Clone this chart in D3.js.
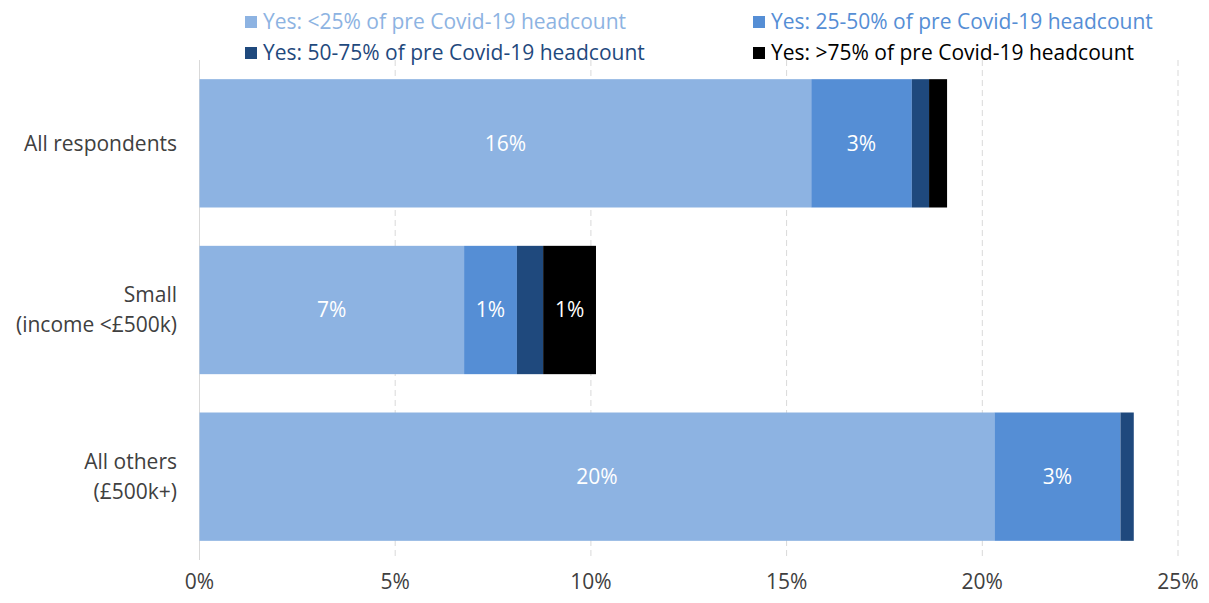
<!DOCTYPE html>
<html>
<head>
<meta charset="utf-8">
<script src="https://cdn.jsdelivr.net/npm/d3@7"></script>
<style>
  body { margin: 0; background: #fff; }
  text { font-family: "Open Sans", "Noto Sans", sans-serif; }
</style>
</head>
<body>
<div id="chart"></div>
<script>
const categories = [['All respondents'], ['Small', '(income <£500k)'], ['All others', '(£500k+)']];
const seriesNames = [
  'Yes: <25% of pre Covid-19 headcount',
  'Yes: 25-50% of pre Covid-19 headcount',
  'Yes: 50-75% of pre Covid-19 headcount',
  'Yes: >75% of pre Covid-19 headcount'
];
const under25 = [15.63, 6.76, 20.31];
const from25to50 = [2.57, 1.35, 3.22];
const from50to75 = [0.44, 0.67, 0.34];
const over75 = [0.46, 1.35, 0];
const showLabel = [[true, true, true], [true, true, true], [false, false, false], [false, true, false]];
const ticks = [0, 5, 10, 15, 20, 25];
const colors = ['#8db3e2', '#558ed5', '#1f497d', '#000000'];

const width = 1209, height = 603;
const margin = {top: 60, right: 31, bottom: 43, left: 199.5};
const fs = 21;

const svg = d3.select('#chart').append('svg')
    .attr('width', width)
    .attr('height', height);

const x = d3.scaleLinear().domain([0, 25]).range([margin.left, width - margin.right]);
const y = d3.scaleBand()
    .domain(d3.range(categories.length))
    .range([margin.top, height - margin.bottom])
    .paddingInner(0.23)
    .paddingOuter(0.115);

// gridlines
svg.append('g')
  .selectAll('line')
  .data(ticks)
  .join('line')
    .attr('x1', d => x(d)).attr('x2', d => x(d))
    .attr('y1', margin.top).attr('y2', height - margin.bottom)
    .attr('stroke', '#d9d9d9')
    .attr('stroke-width', 1)
    .attr('stroke-dasharray', d => d === 0 ? null : '6,4');

// stacked bars
const table = categories.map((c, i) => ({
  i, s0: under25[i], s1: from25to50[i], s2: from50to75[i], s3: over75[i]
}));
const stack = d3.stack().keys(['s0', 's1', 's2', 's3'])(table);

const layers = svg.append('g')
  .selectAll('g')
  .data(stack)
  .join('g')
    .attr('fill', (d, k) => colors[k]);

layers.selectAll('rect')
  .data(d => d)
  .join('rect')
    .attr('x', d => x(d[0]))
    .attr('y', d => y(d.data.i))
    .attr('width', d => x(d[1]) - x(d[0]))
    .attr('height', y.bandwidth());

layers.each(function(layer, k) {
  d3.select(this).selectAll('text')
    .data(layer.filter(d => showLabel[k][d.data.i] && d[1] > d[0]))
    .join('text')
      .attr('x', d => (x(d[0]) + x(d[1])) / 2)
      .attr('y', d => y(d.data.i) + y.bandwidth() / 2)
      .attr('dy', '0.35em')
      .attr('text-anchor', 'middle')
      .attr('fill', '#ffffff')
      .attr('font-size', fs)
      .text(d => Math.round(d[1] - d[0]) + '%');
});

// category labels
categories.forEach((lines, i) => {
  const cy = y(i) + y.bandwidth() / 2;
  const t = svg.append('text')
      .attr('text-anchor', 'end')
      .attr('fill', '#404040')
      .attr('font-size', fs);
  lines.forEach((ln, j) => {
    t.append('tspan')
      .attr('x', 177)
      .attr('y', cy + (j - (lines.length - 1) / 2) * 30)
      .attr('dy', '0.35em')
      .text(ln);
  });
});

// x axis labels
svg.append('g')
  .selectAll('text')
  .data(ticks)
  .join('text')
    .attr('x', d => x(d))
    .attr('y', 582)
    .attr('dy', '0.35em')
    .attr('text-anchor', 'middle')
    .attr('fill', '#404040')
    .attr('font-size', fs)
    .text(d => d + '%');

// legend
const legendPos = [[245, 22], [753, 22], [245, 53], [753, 53]];
const legend = svg.append('g')
  .selectAll('g')
  .data(seriesNames)
  .join('g')
    .attr('transform', (d, k) => `translate(${legendPos[k][0]},${legendPos[k][1]})`);
legend.append('rect')
  .attr('x', 0).attr('y', -6)
  .attr('width', 12).attr('height', 12)
  .attr('fill', (d, k) => colors[k]);
legend.append('text')
  .attr('x', 18)
  .attr('dy', '0.35em')
  .attr('font-size', fs)
  .attr('fill', (d, k) => colors[k])
  .text(d => d);
</script>
</body>
</html>
